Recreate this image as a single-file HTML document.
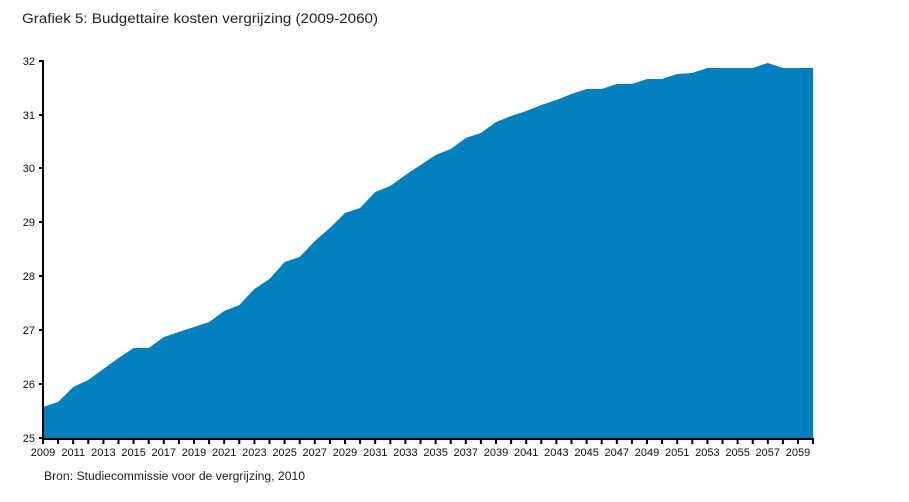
<!DOCTYPE html>
<html><head><meta charset="utf-8"><style>
html,body{margin:0;padding:0;background:#fff;}
svg{display:block;}
</style></head><body>
<svg width="909" height="502" viewBox="0 0 909 502" xmlns="http://www.w3.org/2000/svg">
<rect width="909" height="502" fill="#fff"/>
<text x="22" y="23" font-family="Liberation Sans, sans-serif" font-size="14" fill="#222" textLength="356" lengthAdjust="spacingAndGlyphs">Grafiek 5: Budgettaire kosten vergrijzing (2009-2060)</text>
<polygon fill="#0080be" points="43,439 43,407 58.1,402 73.2,387 88.3,380 103.4,369 118.5,358 133.6,348 148.7,348 163.8,337 178.9,332 194,327 209.1,322 224.2,311 239.3,305 254.4,289 269.5,279 284.6,262 299.7,257 314.8,241 329.9,228 345,213 360.1,208 375.2,192 390.3,186 405.4,175 420.5,165 435.6,155 450.7,149 465.8,138 480.9,133 496,122 511.1,116 526.2,111 541.3,105 556.4,100 571.5,94 586.6,89 601.7,89 616.8,84 631.9,84 647,79 662.1,79 677.2,74 692.3,73 707.4,68 722.5,68 737.6,68 752.7,68 767.8,63 782.9,68 798,68 813.1,68 813.1,439"/>
<g stroke="#000" stroke-width="2" fill="none">
<line x1="43" y1="60" x2="43" y2="440"/>
<line x1="42" y1="439" x2="814" y2="439"/>
<line x1="39" y1="61" x2="43" y2="61"/>
<line x1="39" y1="115" x2="43" y2="115"/>
<line x1="39" y1="168" x2="43" y2="168"/>
<line x1="39" y1="222" x2="43" y2="222"/>
<line x1="39" y1="276" x2="43" y2="276"/>
<line x1="39" y1="330" x2="43" y2="330"/>
<line x1="39" y1="384" x2="43" y2="384"/>
<line x1="39" y1="438" x2="43" y2="438"/>
</g>
<g font-family="Liberation Sans, sans-serif" font-size="11" fill="#111" text-anchor="end">
<text x="35" y="65">32</text>
<text x="35" y="119">31</text>
<text x="35" y="172">30</text>
<text x="35" y="226">29</text>
<text x="35" y="280">28</text>
<text x="35" y="334">27</text>
<text x="35" y="388">26</text>
<text x="35" y="442">25</text>
</g>
<g stroke="#000" stroke-width="2">
<line x1="43" y1="439" x2="43" y2="444"/><line x1="58.1" y1="439" x2="58.1" y2="444"/><line x1="73.2" y1="439" x2="73.2" y2="444"/><line x1="88.3" y1="439" x2="88.3" y2="444"/><line x1="103.4" y1="439" x2="103.4" y2="444"/><line x1="118.5" y1="439" x2="118.5" y2="444"/><line x1="133.6" y1="439" x2="133.6" y2="444"/><line x1="148.7" y1="439" x2="148.7" y2="444"/><line x1="163.8" y1="439" x2="163.8" y2="444"/><line x1="178.9" y1="439" x2="178.9" y2="444"/><line x1="194" y1="439" x2="194" y2="444"/><line x1="209.1" y1="439" x2="209.1" y2="444"/><line x1="224.2" y1="439" x2="224.2" y2="444"/><line x1="239.3" y1="439" x2="239.3" y2="444"/><line x1="254.4" y1="439" x2="254.4" y2="444"/><line x1="269.5" y1="439" x2="269.5" y2="444"/><line x1="284.6" y1="439" x2="284.6" y2="444"/><line x1="299.7" y1="439" x2="299.7" y2="444"/><line x1="314.8" y1="439" x2="314.8" y2="444"/><line x1="329.9" y1="439" x2="329.9" y2="444"/><line x1="345" y1="439" x2="345" y2="444"/><line x1="360.1" y1="439" x2="360.1" y2="444"/><line x1="375.2" y1="439" x2="375.2" y2="444"/><line x1="390.3" y1="439" x2="390.3" y2="444"/><line x1="405.4" y1="439" x2="405.4" y2="444"/><line x1="420.5" y1="439" x2="420.5" y2="444"/><line x1="435.6" y1="439" x2="435.6" y2="444"/><line x1="450.7" y1="439" x2="450.7" y2="444"/><line x1="465.8" y1="439" x2="465.8" y2="444"/><line x1="480.9" y1="439" x2="480.9" y2="444"/><line x1="496" y1="439" x2="496" y2="444"/><line x1="511.1" y1="439" x2="511.1" y2="444"/><line x1="526.2" y1="439" x2="526.2" y2="444"/><line x1="541.3" y1="439" x2="541.3" y2="444"/><line x1="556.4" y1="439" x2="556.4" y2="444"/><line x1="571.5" y1="439" x2="571.5" y2="444"/><line x1="586.6" y1="439" x2="586.6" y2="444"/><line x1="601.7" y1="439" x2="601.7" y2="444"/><line x1="616.8" y1="439" x2="616.8" y2="444"/><line x1="631.9" y1="439" x2="631.9" y2="444"/><line x1="647" y1="439" x2="647" y2="444"/><line x1="662.1" y1="439" x2="662.1" y2="444"/><line x1="677.2" y1="439" x2="677.2" y2="444"/><line x1="692.3" y1="439" x2="692.3" y2="444"/><line x1="707.4" y1="439" x2="707.4" y2="444"/><line x1="722.5" y1="439" x2="722.5" y2="444"/><line x1="737.6" y1="439" x2="737.6" y2="444"/><line x1="752.7" y1="439" x2="752.7" y2="444"/><line x1="767.8" y1="439" x2="767.8" y2="444"/><line x1="782.9" y1="439" x2="782.9" y2="444"/><line x1="798" y1="439" x2="798" y2="444"/><line x1="813" y1="439" x2="813" y2="444"/>
</g>
<g font-family="Liberation Sans, sans-serif" font-size="11" fill="#111" text-anchor="middle">
<text x="43" y="456">2009</text><text x="73.2" y="456">2011</text><text x="103.4" y="456">2013</text><text x="133.6" y="456">2015</text><text x="163.8" y="456">2017</text><text x="194" y="456">2019</text><text x="224.2" y="456">2021</text><text x="254.4" y="456">2023</text><text x="284.6" y="456">2025</text><text x="314.8" y="456">2027</text><text x="345" y="456">2029</text><text x="375.2" y="456">2031</text><text x="405.4" y="456">2033</text><text x="435.6" y="456">2035</text><text x="465.8" y="456">2037</text><text x="496" y="456">2039</text><text x="526.2" y="456">2041</text><text x="556.4" y="456">2043</text><text x="586.6" y="456">2045</text><text x="616.8" y="456">2047</text><text x="647" y="456">2049</text><text x="677.2" y="456">2051</text><text x="707.4" y="456">2053</text><text x="737.6" y="456">2055</text><text x="767.8" y="456">2057</text><text x="798" y="456">2059</text>
</g>
<text x="44" y="480" font-family="Liberation Sans, sans-serif" font-size="11.5" fill="#222" textLength="261" lengthAdjust="spacingAndGlyphs">Bron: Studiecommissie voor de vergrijzing, 2010</text>
</svg>
</body></html>
